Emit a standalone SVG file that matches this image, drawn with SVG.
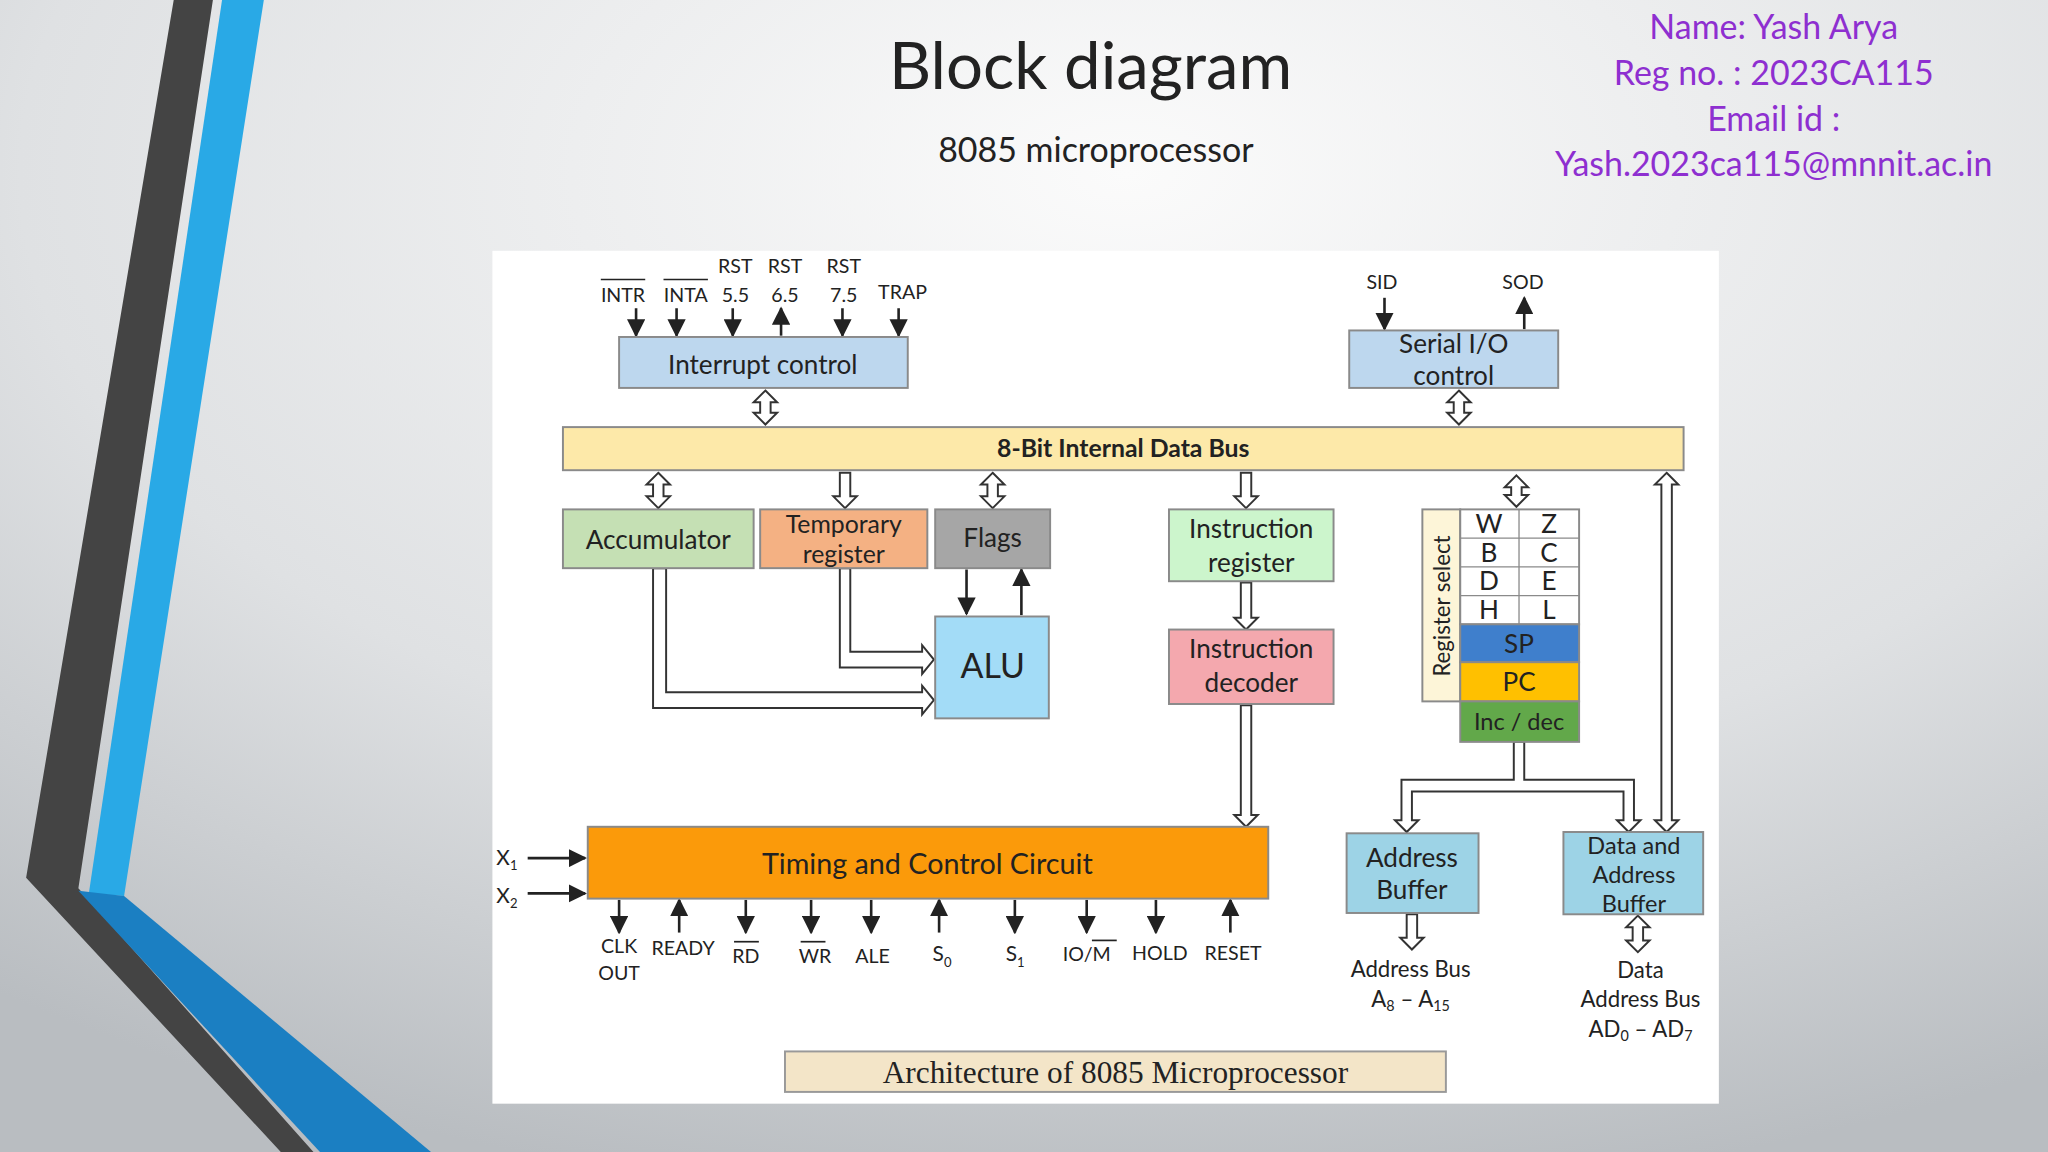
<svg xmlns="http://www.w3.org/2000/svg" width="2048" height="1152" viewBox="0 0 2048 1152">
<defs>
<radialGradient id="bg" cx="0.55" cy="0.15" r="0.9">
<stop offset="0" stop-color="#fbfbfb"/><stop offset="0.6" stop-color="#dfe1e3"/><stop offset="1" stop-color="#b9bdc1"/>
</radialGradient>
<marker id="ah" viewBox="0 0 10 10" refX="9" refY="5" markerWidth="7" markerHeight="7" orient="auto"><path d="M0,0 L10,5 L0,10 Z" fill="#222"/></marker>
<style>
.t{font-family:Lato,"Open Sans",sans-serif;fill:#222}
.box{stroke:#8a8a8a;stroke-width:1.5}
.ho{fill:#fff;stroke:#333;stroke-width:1.5}
.ln{stroke:#222;stroke-width:2;fill:none;marker-end:url(#ah)}
.s{font-size:15px;text-anchor:middle}
.b{font-size:20px;text-anchor:middle}
.p{font-family:Lato,"Open Sans",sans-serif;fill:#8e2fd0;font-size:26px;text-anchor:middle}
</style>
</defs>
<rect width="2048" height="1152" fill="url(#bg)"/>
<g transform="scale(1.306122)">
<g id="decor">
<polygon points="133,0 163,0 60,680 240,882 215,882 20,672" fill="#444"/>
<polygon points="170,0 202,0 95,686 68,684" fill="#29a9e6"/>
<polygon points="60,682 95,686 330,882 245,882" fill="#1b7fc2"/>
</g>
<g id="titles">
<text class="t" x="835" y="68" font-size="50" text-anchor="middle" fill="#111">Block diagram</text>
<text class="t" x="839" y="124" font-size="26" text-anchor="middle">8085 microprocessor</text>
<text class="p" x="1358" y="30">Name:  Yash Arya</text>
<text class="p" x="1358" y="65">Reg no. : 2023CA115</text>
<text class="p" x="1358" y="100">Email id :</text>
<text class="p" x="1358" y="135">Yash.2023ca115@mnnit.ac.in</text>
</g>
<rect x="377" y="192" width="939" height="653" fill="#fff"/>
<g id="connectors">
<line class="ln" x1="487" y1="236" x2="487" y2="257"/>
<line class="ln" x1="518" y1="236" x2="518" y2="257"/>
<line class="ln" x1="561" y1="236" x2="561" y2="257"/>
<line class="ln" x1="598" y1="257" x2="598" y2="236"/>
<line class="ln" x1="645" y1="236" x2="645" y2="257"/>
<line class="ln" x1="688" y1="236" x2="688" y2="257"/>
<line class="ln" x1="1060" y1="228" x2="1060" y2="252"/>
<line class="ln" x1="1167" y1="252" x2="1167" y2="228"/>
<line class="ln" x1="740" y1="436" x2="740" y2="470"/>
<line class="ln" x1="782" y1="471" x2="782" y2="436"/>
<line class="ln" x1="404" y1="657" x2="448" y2="657"/>
<line class="ln" x1="404" y1="684" x2="448" y2="684"/>
<line class="ln" x1="474" y1="689" x2="474" y2="714"/>
<line class="ln" x1="520" y1="714" x2="520" y2="689"/>
<line class="ln" x1="571" y1="689" x2="571" y2="714"/>
<line class="ln" x1="621" y1="689" x2="621" y2="714"/>
<line class="ln" x1="667" y1="689" x2="667" y2="714"/>
<line class="ln" x1="719" y1="714" x2="719" y2="689"/>
<line class="ln" x1="777" y1="689" x2="777" y2="714"/>
<line class="ln" x1="832" y1="689" x2="832" y2="714"/>
<line class="ln" x1="885" y1="689" x2="885" y2="714"/>
<line class="ln" x1="942" y1="714" x2="942" y2="689"/>
<path class="ho" d="M586,299 L595,308 L590,308 L590,316 L595,316 L586,325 L577,316 L582,316 L582,308 L577,308 Z"/>
<path class="ho" d="M1117,299 L1126,308 L1121,308 L1121,316 L1126,316 L1117,325 L1108,316 L1113,316 L1113,308 L1108,308 Z"/>
<path class="ho" d="M504,362 L513,371 L508,371 L508,380 L513,380 L504,389 L495,380 L500,380 L500,371 L495,371 Z"/>
<path class="ho" d="M643,362 L643,380 L638,380 L647,389 L656,380 L651,380 L651,362 Z"/>
<path class="ho" d="M760,362 L769,371 L764,371 L764,380 L769,380 L760,389 L751,380 L756,380 L756,371 L751,371 Z"/>
<path class="ho" d="M950,362 L950,380 L945,380 L954,389 L963,380 L958,380 L958,362 Z"/>
<path class="ho" d="M1161,364 L1170,373 L1165,373 L1165,379 L1170,379 L1161,388 L1152,379 L1157,379 L1157,373 L1152,373 Z"/>
<path class="ho" d="M1276,362 L1285,371 L1280,371 L1280,628 L1285,628 L1276,637 L1267,628 L1272,628 L1272,371 L1267,371 Z"/>
<path class="ho" d="M950,446 L950,473 L945,473 L954,482 L963,473 L958,473 L958,446 Z"/>
<path class="ho" d="M950,540 L950,624 L945,624 L954,633 L963,624 L958,624 L958,540 Z"/>
<path class="ho" d="M1077,700 L1077,718 L1072,718 L1081,727 L1090,718 L1085,718 L1085,700 Z"/>
<path class="ho" d="M1254,701 L1263,710 L1258,710 L1258,720 L1263,720 L1254,729 L1245,720 L1250,720 L1250,710 L1245,710 Z"/>
<path class="ho" d="M643,435 L643,511 L706,511 L706,516 L715,505 L706,494 L706,499 L651,499 L651,435 Z"/>
<path class="ho" d="M500,435 L500,542 L706,542 L706,547 L715,536 L706,525 L706,530 L510,530 L510,435 Z"/>
<path class="ho" d="M1159,568 L1159,597 L1073,597 L1073,628 L1068,628 L1077,637 L1086,628 L1081,628 L1081,606 L1243,606 L1243,628 L1238,628 L1247,637 L1256,628 L1251,628 L1251,597 L1167,597 L1167,568 Z"/>
</g>
<g id="interrupt">
<rect class="box" x="474" y="258" width="221" height="39" fill="#bdd7ee"/>
<text class="t b" x="584" y="286">Interrupt control</text>
<text class="t s" x="477" y="231">INTR</text><line x1="460" y1="214" x2="494" y2="214" stroke="#222" stroke-width="1.3"/>
<text class="t s" x="525" y="231">INTA</text><line x1="508" y1="214" x2="542" y2="214" stroke="#222" stroke-width="1.3"/>
<text class="t s" x="563" y="209">RST</text><text class="t s" x="563" y="231">5.5</text>
<text class="t s" x="601" y="209">RST</text><text class="t s" x="601" y="231">6.5</text>
<text class="t s" x="646" y="209">RST</text><text class="t s" x="646" y="231">7.5</text>
<text class="t s" x="691" y="229">TRAP</text>
</g>
<g id="serial">
<rect class="box" x="1033" y="253" width="160" height="44" fill="#bdd7ee"/>
<text class="t b" x="1113" y="270">Serial I/O</text>
<text class="t b" x="1113" y="295">control</text>
<text class="t s" x="1058" y="221">SID</text>
<text class="t s" x="1166" y="221">SOD</text>
</g>
<g id="bus">
<rect class="box" x="431" y="327" width="858" height="33" fill="#fde9a9"/>
<text class="t" x="860" y="350" font-size="19" font-weight="bold" text-anchor="middle">8-Bit Internal Data Bus</text>
</g>
<g id="accumulator"><rect class="box" x="431" y="390" width="146" height="45" fill="#c5e0b4"/><text class="t b" x="504" y="420">Accumulator</text></g>
<g id="temp"><rect class="box" x="582" y="390" width="128" height="45" fill="#f4b183"/><text class="t" x="646" y="408" font-size="19" text-anchor="middle">Temporary</text><text class="t" x="646" y="431" font-size="19" text-anchor="middle">register</text></g>
<g id="flags"><rect class="box" x="716" y="390" width="88" height="45" fill="#a6a6a6"/><text class="t b" x="760" y="419">Flags</text></g>
<g id="alu"><rect class="box" x="716" y="472" width="87" height="78" fill="#a3dcf7"/><text class="t" x="760" y="519" font-size="26" text-anchor="middle">ALU</text></g>
<g id="ireg"><rect class="box" x="895" y="390" width="126" height="55" fill="#ccf5cc"/><text class="t b" x="958" y="412">Instruction</text><text class="t b" x="958" y="438">register</text></g>
<g id="idec"><rect class="box" x="895" y="482" width="126" height="57" fill="#f4a8ae"/><text class="t b" x="958" y="504">Instruction</text><text class="t b" x="958" y="530">decoder</text></g>
<g id="regs">
<rect class="box" x="1089" y="390" width="29" height="147" fill="#fdf5d8"/>
<text class="t" transform="translate(1110,464) rotate(-90)" font-size="17" text-anchor="middle">Register select</text>
<rect class="box" x="1118" y="390" width="91" height="88" fill="#fff"/>
<line x1="1163" y1="390" x2="1163" y2="478" stroke="#8a8a8a"/>
<line x1="1118" y1="412" x2="1209" y2="412" stroke="#8a8a8a"/>
<line x1="1118" y1="434" x2="1209" y2="434" stroke="#8a8a8a"/>
<line x1="1118" y1="456" x2="1209" y2="456" stroke="#8a8a8a"/>
<text class="t b" x="1140" y="408">W</text><text class="t b" x="1186" y="408">Z</text>
<text class="t b" x="1140" y="430">B</text><text class="t b" x="1186" y="430">C</text>
<text class="t b" x="1140" y="452">D</text><text class="t b" x="1186" y="452">E</text>
<text class="t b" x="1140" y="474">H</text><text class="t b" x="1186" y="474">L</text>
<rect class="box" x="1118" y="478" width="91" height="29" fill="#3f7fcc"/><text class="t b" x="1163" y="500">SP</text>
<rect class="box" x="1118" y="507" width="91" height="30" fill="#ffc000"/><text class="t b" x="1163" y="529">PC</text>
<rect class="box" x="1118" y="537" width="91" height="31" fill="#62a84a"/><text class="t" x="1163" y="559" font-size="18" text-anchor="middle">Inc / dec</text>
</g>
<g id="abuf"><rect class="box" x="1031" y="638" width="101" height="61" fill="#9dd3e6"/><text class="t b" x="1081" y="664">Address</text><text class="t b" x="1081" y="688">Buffer</text>
<text class="t" x="1080" y="748" font-size="17" text-anchor="middle">Address Bus</text>
<text class="t" x="1080" y="771" font-size="17" text-anchor="middle">A<tspan font-size="11" dy="3">8</tspan><tspan dy="-3"> – A</tspan><tspan font-size="11" dy="3">15</tspan></text></g>
<g id="dbuf"><rect class="box" x="1197" y="637" width="107" height="63" fill="#9dd3e6"/><text class="t" x="1251" y="654" font-size="18" text-anchor="middle">Data and</text><text class="t" x="1251" y="676" font-size="18" text-anchor="middle">Address</text><text class="t" x="1251" y="698" font-size="18" text-anchor="middle">Buffer</text>
<text class="t" x="1256" y="749" font-size="17" text-anchor="middle">Data</text>
<text class="t" x="1256" y="771" font-size="17" text-anchor="middle">Address Bus</text>
<text class="t" x="1256" y="794" font-size="17" text-anchor="middle">AD<tspan font-size="11" dy="3">0</tspan><tspan dy="-3"> – AD</tspan><tspan font-size="11" dy="3">7</tspan></text></g>
<g id="timing">
<rect class="box" x="450" y="633" width="521" height="55" fill="#fb9a0a"/>
<text class="t" x="710" y="669" font-size="22" text-anchor="middle">Timing and Control Circuit</text>
<text class="t" x="380" y="662" font-size="16">X<tspan font-size="10" dy="4">1</tspan></text>
<text class="t" x="380" y="691" font-size="16">X<tspan font-size="10" dy="4">2</tspan></text>
<text class="t s" x="474" y="730">CLK</text><text class="t s" x="474" y="750">OUT</text>
<text class="t s" x="523" y="731">READY</text>
<text class="t s" x="571" y="737">RD</text><line x1="562" y1="721" x2="581" y2="721" stroke="#222" stroke-width="1.3"/>
<text class="t s" x="624" y="737">WR</text><line x1="613" y1="721" x2="632" y2="721" stroke="#222" stroke-width="1.3"/>
<text class="t s" x="668" y="737">ALE</text>
<text class="t" x="714" y="736" font-size="16">S<tspan font-size="10" dy="4">0</tspan></text>
<text class="t" x="770" y="736" font-size="16">S<tspan font-size="10" dy="4">1</tspan></text>
<text class="t s" x="832" y="736">IO/M</text><line x1="836" y1="720" x2="855" y2="720" stroke="#222" stroke-width="1.3"/>
<text class="t s" x="888" y="735">HOLD</text>
<text class="t s" x="944" y="735">RESET</text>
</g>
<g id="caption">
<rect x="601" y="805" width="506" height="31" fill="#f3e5c8" stroke="#999" stroke-width="1.5"/>
<text x="854" y="829" font-family="'Liberation Serif',serif" font-size="24" text-anchor="middle" fill="#222">Architecture of 8085 Microprocessor</text>
</g>
</g>
</svg>
